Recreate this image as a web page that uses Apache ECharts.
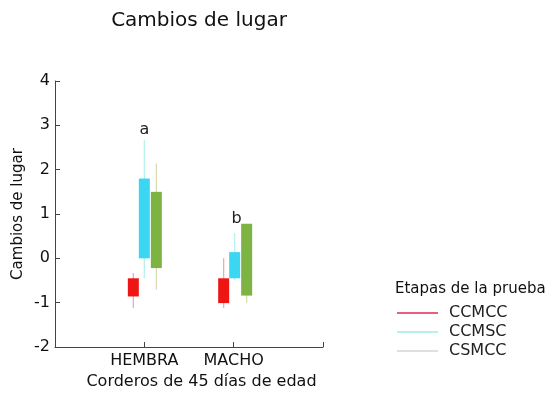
<!DOCTYPE html>
<html><head><meta charset="utf-8">
<script src="https://cdn.jsdelivr.net/npm/echarts@6/dist/echarts.min.js"></script>
<style>html,body{margin:0;padding:0;background:#fff}#c{width:554px;height:394px}</style>
</head><body><div id="c"></div>
<script>
const categories = ['', 'HEMBRA', 'MACHO', ''];
const seriesNames = ['CCMCC', 'CCMSC', 'CSMCC'];
// each row: [categoryIndex, whiskerLow, boxLow, boxHigh, whiskerHigh]
const ccmcc = [[1, -1.12, -0.86, -0.45, -0.33], [2, -1.12, -1.01, -0.45, 0.0]];
const ccmsc = [[1, -0.45, 0.0, 1.8, 2.67], [2, -0.5, -0.45, 0.14, 0.57]];
const csmcc = [[1, -0.71, -0.22, 1.5, 2.14], [2, -1.0, -0.84, 0.78, 0.78]];
const sigLetters = [[1, 2.9, 'a'], [2, 0.9, 'b']];
const yTicks = [-2, -1, 0, 1, 2, 3, 4];

const boxColors = ['#ee1515', '#3ad6f2', '#7cb342'];
const whiskerColors = ['#f6a0a8', '#b4f0ee', '#d8d8b0'];
const legendColors = ['#e8607a', '#b8f2ea', '#e0e0e0'];
const offsets = [-11, 0, 12];
const FONT = '"DejaVu Sans", sans-serif';

function makeRender(si) {
  return function (params, api) {
    const x = api.value(0);
    const pLow = api.coord([x, api.value(1)]);
    const pB1 = api.coord([x, api.value(2)]);
    const pB2 = api.coord([x, api.value(3)]);
    const pHigh = api.coord([x, api.value(4)]);
    const cx = pLow[0] + offsets[si] + (x === 2 ? 1 : 0);
    const w = 11;
    return {
      type: 'group',
      children: [
        { type: 'line', shape: { x1: cx, y1: pLow[1], x2: cx, y2: pHigh[1] },
          style: { stroke: whiskerColors[si], lineWidth: 1.2 } },
        { type: 'rect', shape: { x: cx - w / 2, y: pB2[1], width: w, height: pB1[1] - pB2[1] },
          style: { fill: boxColors[si] } }
      ]
    };
  };
}

const chart = echarts.init(document.getElementById('c'));
const dataSets = [ccmcc, ccmsc, csmcc];
const series = dataSets.map((d, i) => ({
  name: seriesNames[i], type: 'custom', renderItem: makeRender(i),
  itemStyle: { color: legendColors[i] },
  encode: { x: 0, y: [1, 2, 3, 4] }, data: d
}));
series.push({
  type: 'custom', silent: true,
  renderItem: function (params, api) {
    const p = api.coord([api.value(0), api.value(1)]);
    return { type: 'text', x: p[0] + (api.value(0) === 2 ? 3 : 0), y: p[1],
      style: { text: sigLetters[params.dataIndex][2], fill: '#222', font: '16px ' + FONT,
        textAlign: 'center', textVerticalAlign: 'middle' } };
  },
  encode: { x: 0, y: 1 },
  data: sigLetters.map(r => [r[0], r[1]])
});

chart.setOption({
  animation: false,
  textStyle: { fontFamily: FONT },
  title: [
    { text: 'Cambios de lugar', left: 194, top: 6, textAlign: 'center',
      textStyle: { fontSize: 20, fontWeight: 'normal', color: '#111', fontFamily: FONT } },
    { text: 'Etapas de la prueba', left: 390, top: 277,
      textStyle: { fontSize: 15, fontWeight: 'normal', color: '#111', fontFamily: FONT } }
  ],
  legend: {
    orient: 'vertical', left: 392, top: 299, itemWidth: 41, itemHeight: 2, itemGap: 1,
    icon: 'rect', selectedMode: false,
    data: seriesNames.map((n, i) => ({ name: n, itemStyle: { color: legendColors[i] } })),
    textStyle: { fontSize: 16, color: '#222', padding: [0, 0, 0, 6], lineHeight: 18, fontFamily: FONT }
  },
  grid: { left: 55, right: 231, top: 81, bottom: 47, outerBoundsMode: 'none', containLabel: false },
  xAxis: {
    type: 'category', data: categories, boundaryGap: false,
    name: 'Corderos de 45 días de edad', nameLocation: 'middle', nameGap: 26,
    nameTextStyle: { fontSize: 16, color: '#111', padding: [0, 0, 0, 25] },
    axisLine: { onZero: false, lineStyle: { color: '#444', width: 1 } },
    axisTick: { inside: true, length: 5, lineStyle: { color: '#444' } },
    axisLabel: { fontSize: 16, color: '#111', margin: 6, interval: 0 },
    splitLine: { show: false }
  },
  yAxis: {
    type: 'value', min: -2, max: 4, interval: 1,
    name: 'Cambios de lugar', nameLocation: 'middle', nameGap: 29,
    nameTextStyle: { fontSize: 15, color: '#111' },
    axisLine: { show: true, lineStyle: { color: '#444', width: 1 } },
    axisTick: { show: true, inside: true, length: 5, lineStyle: { color: '#444' } },
    axisLabel: { fontSize: 16, color: '#111', margin: 5,
      formatter: v => yTicks.includes(v) ? String(v) : '' },
    splitLine: { show: false }
  },
  series: series
});
</script></body></html>
